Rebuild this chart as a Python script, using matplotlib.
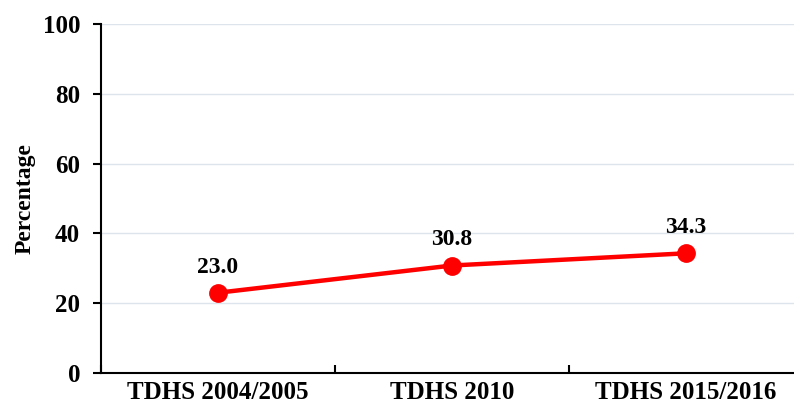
import matplotlib.pyplot as plt

plt.rcParams["font.family"] = ["Liberation Serif", "DejaVu Serif"]
plt.rcParams["font.weight"] = "bold"

surveys = ["TDHS 2004/2005", "TDHS 2010", "TDHS 2015/2016"]
percentages = [23.0, 30.8, 34.3]

fig = plt.figure(figsize=(7.94, 4.11), dpi=100)
ax = fig.add_axes([101 / 794, 38 / 411, 702 / 794, 349 / 411])

x = list(range(1, len(surveys) + 1))
ax.plot(x, percentages, color="#ff0000", linewidth=3.2, marker="o",
        markersize=12.5, zorder=3, clip_on=False)
for xi, v in zip(x, percentages):
    ax.annotate(f"{v:.1f}", (xi, v), xytext=(0, 14.5), textcoords="offset points",
                ha="center", va="baseline", fontsize=17, fontweight="bold")

ax.set_xlim(0.5, 3.5)
ax.set_ylim(0, 100)
ax.set_yticks(range(0, 101, 20))
ax.set_xticks(x)
ax.set_xticklabels(surveys)
ax.set_xticks([0.5, 1.5, 2.5, 3.5], minor=True)
ax.tick_params(axis="x", which="major", length=0, pad=6, labelsize=18)
ax.tick_params(axis="x", which="minor", length=6, width=1.5, direction="in")
ax.tick_params(axis="y", length=5.5, width=1.5, labelsize=18, pad=9.5)
ax.grid(axis="y", color="#dde4ec", linewidth=1)
ax.set_axisbelow(True)
ax.spines["top"].set_visible(False)
ax.spines["right"].set_visible(False)
ax.spines["left"].set_linewidth(1.5)
ax.spines["bottom"].set_linewidth(1.5)
ax.set_ylabel("Percentage", fontsize=17, fontweight="bold", labelpad=5)

fig.savefig("out.png", dpi=100)
